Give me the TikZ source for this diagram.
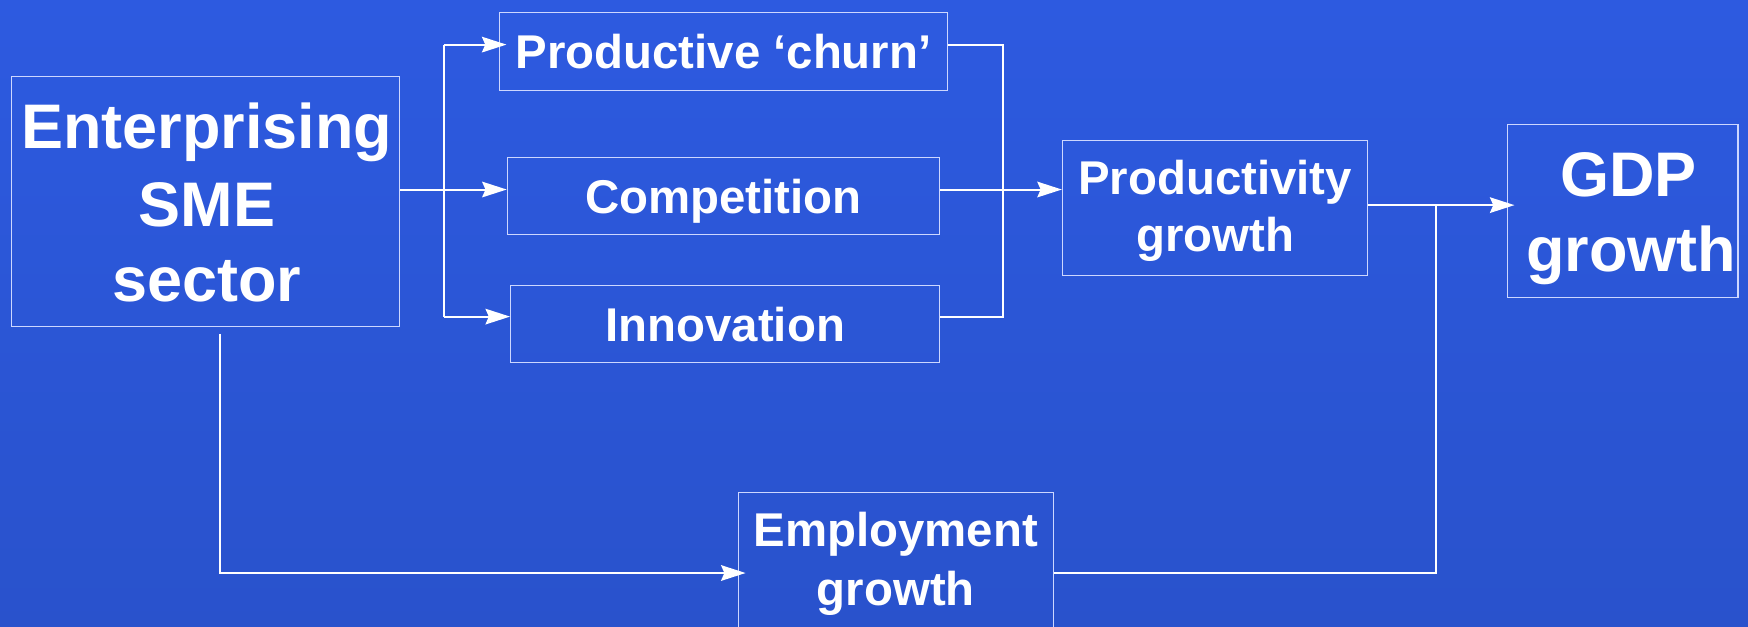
\documentclass[tikz,border=0pt]{standalone}
\usepackage{fontspec}
\setmainfont{Liberation Sans}
\usetikzlibrary{arrows.meta,calc}
\definecolor{bgtop}{RGB}{45,90,224}
\definecolor{bgmid}{RGB}{51,102,255}
\definecolor{bgbot}{RGB}{41,82,204}
\definecolor{boxline}{RGB}{205,215,255}
\tikzset{
  box/.style={draw=boxline, line width=1pt, inner sep=0pt},
  txt/.style={text=white, inner sep=0pt, anchor=base},
  bigtext/.style={txt, font=\fontsize{56.5}{68}\selectfont\bfseries},
  smalltext/.style={txt, font=\fontsize{42.5}{51}\selectfont\bfseries},
  conn/.style={draw=white, line width=1.8pt},
  arr/.style={conn, -{Stealth[length=22pt,width=14pt,inset=3pt]}}
}
\begin{document}
\begin{tikzpicture}[x=1pt,y=-1pt]
\useasboundingbox (0,0) rectangle (1568,562);
\clip (0,0) rectangle (1568,562);
\shade[top color=bgtop, middle color=bgmid, bottom color=bgbot] (0,0) rectangle (1568,562);

% boxes
\node[box, minimum width=348pt, minimum height=224pt] (ent) at (184.5,181) {};
\node[box, minimum width=402pt, minimum height=70pt] (churn) at (648.8,46) {};
\node[box, minimum width=388pt, minimum height=69pt] (comp) at (649,175.5) {};
\node[box, minimum width=385pt, minimum height=69pt] (innov) at (650.5,290.5) {};
\node[box, minimum width=274pt, minimum height=121pt] (prod) at (1090,186.6) {};
\node[box, minimum width=207pt, minimum height=155.5pt] (gdp) at (1455.5,189.3) {};
\node[box, minimum width=282.6pt, minimum height=126pt] (emp) at (803.6,505) {};

% texts
\node[bigtext] (entA) at (185.5,133) {Enterprising};
\node[bigtext] (entB) at (185.5,203.4) {SME};
\node[bigtext] (entC) at (185.5,270.7) {sector};
\node[smalltext] (churnT) at (649,61.3) {Productive ‘churn’};
\node[smalltext] (compT) at (649,191.4) {Competition};
\node[smalltext] (innovT) at (650.5,306.5) {Innovation};
\node[smalltext] (prodA) at (1090,174.9) {Productivity};
\node[smalltext] (prodB) at (1090,225.8) {growth};
\node[bigtext] (gdpA) at (1461,176.4) {GDP};
\node[bigtext] (gdpB) at (1463,243.7) {growth};
\node[smalltext] (empA) at (803.6,490.4) {Employment};
\node[smalltext] (empB) at (803.6,542.7) {growth};

\coordinate (yA) at (0,170);
\coordinate (yC) at (0,40);
\coordinate (yI) at (0,284);
\coordinate (yG) at (0,184);
\coordinate (yE) at (0,514);
\coordinate (xL) at (398.5,0);
\coordinate (xR) at (900,0);
\coordinate (xJ) at (1288,0);
\coordinate (xS) at (197.3,0);

\draw[arr] (ent.east |- yA) -- (comp.west |- yA);
\draw[conn] (xL |- yC) -- (xL |- yI);
\draw[arr, shorten >=-7pt] (xL |- yC) -- (churn.west |- yC);
\draw[arr] (xL |- yI) -- (innov.west |- yI);
\draw[conn] (churn.east |- yC) -- (xR |- yC) -- (xR |- yI) -- (innov.east |- yI);
\draw[arr] (comp.east |- yA) -- (prod.west |- yA);
\draw[arr, shorten >=-7pt] (prod.east |- yG) -- (gdp.west |- yG);
\draw[conn] (emp.east |- yE) -- (xJ |- yE) -- (xJ |- yG);
\draw[arr, shorten <=6pt, shorten >=-7pt] (ent.south -| xS) -- (xS |- yE) -- (emp.west |- yE);
\end{tikzpicture}
\end{document}
